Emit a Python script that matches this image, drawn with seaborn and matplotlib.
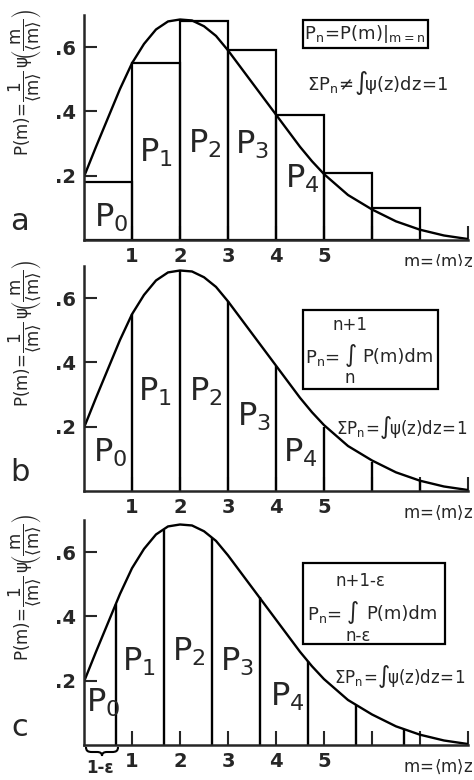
import numpy as np
import matplotlib
matplotlib.use("Agg")
import matplotlib.pyplot as plt
import seaborn as sns
from matplotlib.patches import Rectangle, PathPatch
from matplotlib.path import Path

# curve P(m)
m_curve = [0, 0.25, 0.5, 0.75, 1, 1.25, 1.5, 1.75, 2, 2.25, 2.5, 2.75, 3, 3.25, 3.5,
           3.75, 4, 4.25, 4.5, 4.75, 5, 5.5, 6, 6.5, 7, 7.5, 8]
p_curve = [0.197, 0.29, 0.38, 0.47, 0.55, 0.61, 0.655, 0.68, 0.686, 0.683, 0.665, 0.635,
           0.59, 0.54, 0.49, 0.44, 0.39, 0.34, 0.29, 0.245, 0.205, 0.14, 0.095, 0.058,
           0.032, 0.014, 0.003]

# panel a: histogram bars P_n = P(m) at m = n
bar_left = [0, 1, 2, 3, 4, 5, 6]
bar_height = [0.18, 0.55, 0.68, 0.59, 0.39, 0.21, 0.10]

# panel b: dividing lines at integers
b_lines = [1, 2, 3, 4, 5, 6, 7]
b_heights = [0.55, 0.686, 0.59, 0.39, 0.2, 0.09, 0.03]

# panel c: dividing lines at n - eps
c_lines = [0.67, 1.67, 2.67, 3.67, 4.67, 5.67, 6.67]
c_heights = [0.44, 0.67, 0.645, 0.46, 0.26, 0.125, 0.05]

p_names = ["$P_0$", "$P_1$", "$P_2$", "$P_3$", "$P_4$"]
pos_a = ([0.56, 1.5, 2.52, 3.5, 4.55], [0.07, 0.27, 0.30, 0.295, 0.19])
pos_b = ([0.54, 1.48, 2.54, 3.54, 4.5], [0.12, 0.31, 0.31, 0.23, 0.12])
pos_c = ([0.4, 1.15, 2.19, 3.19, 4.23], [0.13, 0.26, 0.29, 0.26, 0.15])

xticks = [1, 2, 3, 4, 5, 6, 7, 8]
xtick_labels = ["1", "2", "3", "4", "5", "", "", ""]
yticks = [0.2, 0.4, 0.6]
ytick_labels = [".2", ".4", ".6"]

sns.set_style("ticks")
plt.rcParams["font.family"] = ["DejaVu Sans"]
plt.rcParams["mathtext.default"] = "regular"

W, H = 474, 780
fig = plt.figure(figsize=(W / 100, H / 100), dpi=100)


def fx(x):
    return x / W


def fy(y):
    return 1 - y / H


ylab = (r"$P(m)\!=\!\dfrac{1}{\langle m\rangle}\,\psi\!"
        r"\left(\dfrac{m}{\langle m\rangle}\right)$")

axes = []
for bottom_px in [240, 491, 745]:
    ax = fig.add_axes([fx(84), fy(bottom_px), fx(468 - 84), 225 / H])
    ax.set_xlim(0, 8)
    ax.set_ylim(0, 0.7)
    sns.despine(ax=ax)
    ax.spines["left"].set_linewidth(1.8)
    ax.spines["bottom"].set_linewidth(1.8)
    ax.set_xticks(xticks, labels=xtick_labels)
    ax.set_yticks(yticks, labels=ytick_labels)
    ax.tick_params(axis="x", direction="in", length=10, width=1.5, pad=5, labelsize=14)
    ax.tick_params(axis="y", direction="in", length=9, width=1.5, pad=6, labelsize=14)
    for lab in ax.get_xticklabels() + ax.get_yticklabels():
        lab.set_fontweight("bold")
    sns.lineplot(x=m_curve, y=p_curve, ax=ax, color="black", lw=1.7)
    ax.set_ylabel(ylab, fontsize=12)
    ax.yaxis.set_label_coords(-0.105, 0.70)
    ax.text(8.12, -0.068, r"$m\!=\!\langle m\rangle z$", fontsize=12,
            ha="right", va="center")
    axes.append(ax)

ax_a, ax_b, ax_c = axes

# panel a
ax_a.bar(bar_left, bar_height, width=1, align="edge", fill=False,
         edgecolor="black", linewidth=1.6)
for name, x, y in zip(p_names, *pos_a):
    ax_a.text(x, y, name, fontsize=23, ha="center", va="center")

# panel b
ax_b.vlines(b_lines, 0, b_heights, color="black", lw=1.7)
for name, x, y in zip(p_names, *pos_b):
    ax_b.text(x, y, name, fontsize=23, ha="center", va="center")

# panel c
ax_c.vlines(c_lines, 0, c_heights, color="black", lw=1.7)
for name, x, y in zip(p_names, *pos_c):
    ax_c.text(x, y, name, fontsize=23, ha="center", va="center")

# panel letters
for letter, ypx in [("a", 222), ("b", 473), ("c", 728)]:
    fig.text(fx(20), fy(ypx), letter, fontsize=22, ha="center", va="center")

# formula boxes
fig.patches.append(Rectangle((fx(303), fy(48)), fx(125), 28 / H, fill=False,
                             lw=1.6, ec="black", transform=fig.transFigure))
fig.text(fx(365), fy(34), r"$P_n\!=\!P(m)|_{m=n}$", fontsize=13,
         ha="center", va="center")
fig.text(fx(378), fy(83), r"$\Sigma P_n\!\neq\!\int\!\psi(z)dz\!=\!1$", fontsize=13,
         ha="center", va="center")

fig.patches.append(Rectangle((fx(303), fy(389)), fx(135), 79 / H, fill=False,
                             lw=1.6, ec="black", transform=fig.transFigure))
fig.text(fx(350), fy(325), "n+1", fontsize=12, ha="center", va="center")
fig.text(fx(305), fy(358), "$P_n$=", fontsize=13, ha="left", va="center")
fig.text(fx(350), fy(356), r"$\int$", fontsize=12, ha="center", va="center")
fig.text(fx(362), fy(357), "P(m)dm", fontsize=13, ha="left", va="center")
fig.text(fx(350), fy(378), "n", fontsize=12, ha="center", va="center")
fig.text(fx(402), fy(427), r"$\Sigma P_n\!=\!\int\!\psi(z)dz\!=\!1$", fontsize=12,
         ha="center", va="center")

fig.patches.append(Rectangle((fx(303), fy(644)), fx(142), 81 / H, fill=False,
                             lw=1.6, ec="black", transform=fig.transFigure))
fig.text(fx(360), fy(581), "n+1-ε", fontsize=12, ha="center", va="center")
fig.text(fx(307), fy(615), "$P_n$=", fontsize=13, ha="left", va="center")
fig.text(fx(352), fy(613), r"$\int$", fontsize=12, ha="center", va="center")
fig.text(fx(366), fy(614), "P(m)dm", fontsize=13, ha="left", va="center")
fig.text(fx(358), fy(636), "n-ε", fontsize=12, ha="center", va="center")
fig.text(fx(400), fy(677), r"$\Sigma P_n\!=\!\int\!\psi(z)dz\!=\!1$", fontsize=12,
         ha="center", va="center")

# brace under 1-eps in panel c
brace_px = [(86, 747), (86, 751), (88, 752), (92, 752), (97, 752),
            (100, 752), (102, 753), (102, 756),
            (102, 753), (104, 752), (107, 752), (112, 752),
            (116, 752), (118, 751), (118, 747)]
codes = [Path.MOVETO, Path.CURVE4, Path.CURVE4, Path.CURVE4, Path.LINETO,
         Path.CURVE4, Path.CURVE4, Path.CURVE4,
         Path.CURVE4, Path.CURVE4, Path.CURVE4, Path.LINETO,
         Path.CURVE4, Path.CURVE4, Path.CURVE4]
brace = Path([(fx(x), fy(y)) for x, y in brace_px], codes)
fig.patches.append(PathPatch(brace, fill=False, lw=1.5, ec="black",
                             transform=fig.transFigure))
fig.text(fx(100), fy(768), "1-ε", fontsize=12, fontweight="bold",
         ha="center", va="center")

plt.savefig("out.png", dpi=100)
